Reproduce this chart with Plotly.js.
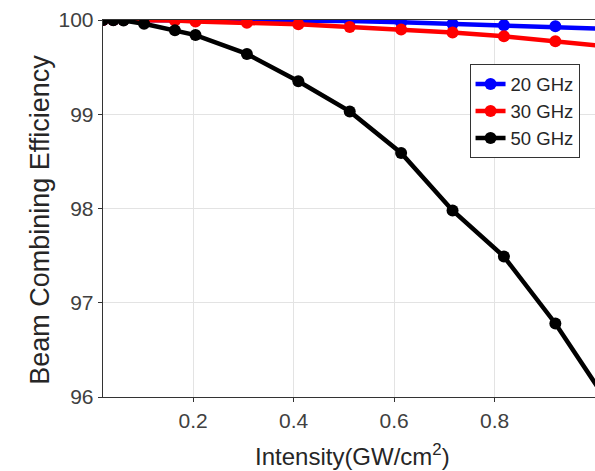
<!DOCTYPE html>
<html>
<head>
<meta charset="utf-8">
<script src="https://cdn.plot.ly/plotly-3.0.1.min.js"></script>
<style>html,body{margin:0;padding:0;background:#fff;}#chart{width:595px;height:471px;}</style>
</head>
<body>
<div id="chart"></div>
<script>
var intensity = [0.0205, 0.041, 0.0614, 0.1023, 0.1637, 0.2047, 0.307, 0.4094, 0.5117, 0.614, 0.7164, 0.8187, 0.9211, 1.0234];
var eff20 = [100, 100, 100, 100, 100, 100, 99.998, 99.995, 99.99, 99.975, 99.958, 99.945, 99.933, 99.905];
var eff30 = [100, 100, 99.999, 99.998, 99.995, 99.985, 99.972, 99.954, 99.926, 99.90, 99.867, 99.827, 99.774, 99.72];
var eff50 = [100, 99.998, 99.995, 99.96, 99.89, 99.84, 99.64, 99.35, 99.03, 98.59, 97.98, 97.49, 96.78, 95.96];
var seriesNames = ["20 GHz", "30 GHz", "50 GHz"];
var xTicks = [0.2, 0.4, 0.6, 0.8, 1];
var xTickText = ['0.2', '0.4', '0.6', '0.8', '1'];
var yTicks = [96, 97, 98, 99, 100];
var yTickText = ['96', '97', '98', '99', '100'];
var xTitle = 'Intensity(GW/cm<sup>2</sup>)';
var yTitle = 'Beam Combining Efficiency';

function tr(y, name, color) {
  return {x: intensity, y: y, name: name, type: 'scatter', mode: 'lines+markers',
    line: {color: color, width: 4.5}, marker: {color: color, size: 12}, cliponaxis: true};
}
var data = [tr(eff20, seriesNames[0], '#0000ff'), tr(eff30, seriesNames[1], '#ff0000'), tr(eff50, seriesNames[2], '#000000')];
var fam = 'Liberation Sans, Arial, sans-serif';
var tickFont = {family: fam, size: 21, color: '#404040'};
var layout = {
  width: 595, height: 471,
  margin: {l: 103, r: 0, t: 20, b: 74},
  paper_bgcolor: '#fff', plot_bgcolor: '#fff',
  font: {family: fam, size: 19, color: '#262626'},
  showlegend: true,
  legend: {x: 0.745, y: 0.882, xanchor: 'left', yanchor: 'top', bgcolor: '#fff',
    bordercolor: '#333', borderwidth: 1, font: {family: fam, size: 18.5, color: '#262626'},
    tracegroupgap: 0},
  xaxis: {range: [0.0205, 1.0], tickvals: xTicks, ticktext: xTickText,
    showgrid: true, gridcolor: '#e3e3e3', gridwidth: 1, zeroline: false,
    showline: true, linecolor: '#333', linewidth: 1.3, mirror: true,
    ticks: 'outside', ticklen: 4, tickcolor: '#333', tickfont: tickFont},
  yaxis: {range: [96, 100], tickvals: yTicks, ticktext: yTickText,
    showgrid: true, gridcolor: '#e3e3e3', gridwidth: 1, zeroline: false,
    showline: true, linecolor: '#333', linewidth: 1.3, mirror: true,
    ticks: 'outside', ticklen: 4, tickcolor: '#333', tickfont: tickFont},
  annotations: [
    {text: xTitle, xref: 'paper', yref: 'paper', x: 0.508, y: -0.108, xanchor: 'center', yanchor: 'top',
      showarrow: false, font: {family: fam, size: 24, color: '#262626'}},
    {text: yTitle, xref: 'paper', yref: 'paper', x: -0.128, y: 0.47, xanchor: 'center', yanchor: 'middle',
      textangle: -90, showarrow: false, font: {family: fam, size: 27, color: '#262626'}}
  ]
};
Plotly.newPlot('chart', data, layout, {staticPlot: true, displayModeBar: false});
</script>
</body>
</html>
